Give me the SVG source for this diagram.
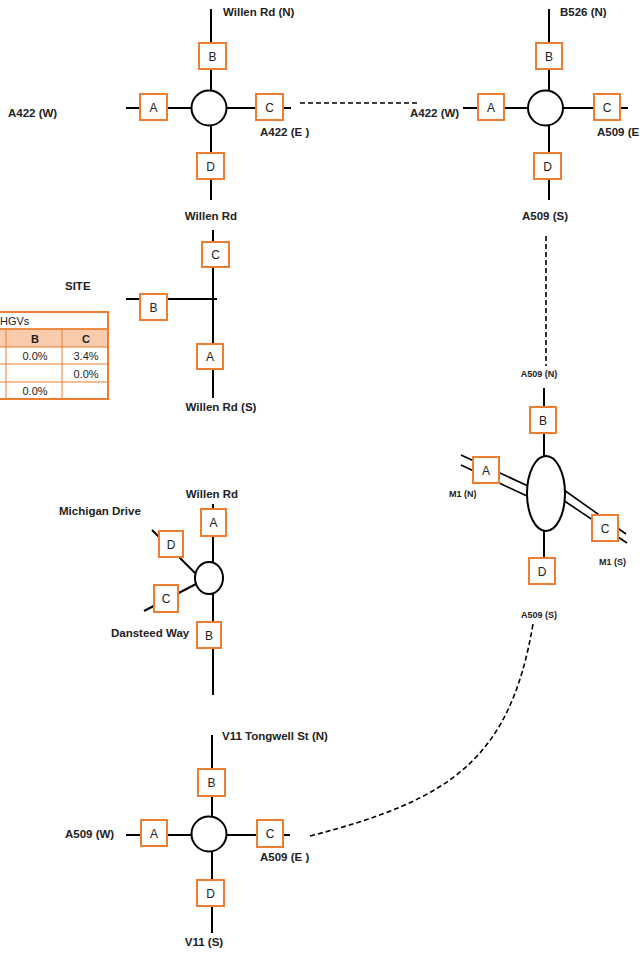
<svg xmlns="http://www.w3.org/2000/svg" width="640" height="956" viewBox="0 0 640 956">
<style>
.rd{stroke:#000;stroke-width:2;fill:none}
.rt{stroke:#000;stroke-width:2;fill:#fff}
.bx{stroke:#ED7D31;stroke-width:2;fill:#fff}
.bl{font-family:"Liberation Sans",Arial,sans-serif;font-size:12px;fill:#222;text-anchor:middle}
.lb{font-family:"Liberation Sans",Arial,sans-serif;font-size:11.5px;font-weight:bold;fill:#222}
.sl{font-family:"Liberation Sans",Arial,sans-serif;font-size:9px;font-weight:bold;fill:#222}
.ds{stroke:#000;stroke-width:1.6;fill:none;stroke-dasharray:5 3}
.tb{font-family:"Liberation Sans",Arial,sans-serif;font-size:11px;fill:#222;text-anchor:middle}
.tl{stroke:#ED7D31;stroke-width:1;fill:none}
</style>
<rect width="640" height="956" fill="#fff"/>
<g id="connectors">
<path class="ds" d="M300,103 L418,103" stroke-dasharray="4 2.5"/>
<path class="ds" d="M546,236 L546,366"/>
<path class="ds" d="M310,836 C450,800 510,760 533,624"/>
</g>
<g id="j1">
<path class="rd" d="M211,9 V200 M126,108 H291"/>
<circle class="rt" cx="209" cy="108" r="17.5"/>
<rect class="bx" x="199" y="43" width="27" height="26"/><text class="bl" x="212.5" y="60.5">B</text>
<rect class="bx" x="140" y="94" width="27" height="26"/><text class="bl" x="153.5" y="111.5">A</text>
<rect class="bx" x="256" y="94" width="27" height="26"/><text class="bl" x="269.5" y="111.5">C</text>
<rect class="bx" x="197" y="153" width="27" height="26"/><text class="bl" x="210.5" y="170.5">D</text>
<text class="lb" x="223" y="16">Willen Rd (N)</text>
<text class="lb" x="8" y="117">A422 (W)</text>
<text class="lb" x="260" y="136">A422 (E )</text>
<text class="lb" x="211" y="220" text-anchor="middle">Willen Rd</text>
</g>
<g id="j2">
<path class="rd" d="M549,9 V200 M463,108 H628"/>
<circle class="rt" cx="545.5" cy="108" r="17.5"/>
<rect class="bx" x="536" y="43" width="26" height="26"/><text class="bl" x="549" y="60.5">B</text>
<rect class="bx" x="478" y="94" width="26" height="26"/><text class="bl" x="491" y="111.5">A</text>
<rect class="bx" x="594" y="94" width="26" height="26"/><text class="bl" x="607" y="111.5">C</text>
<rect class="bx" x="534" y="153" width="27" height="26"/><text class="bl" x="547.5" y="170.5">D</text>
<text class="lb" x="560" y="16">B526 (N)</text>
<text class="lb" x="410" y="117">A422 (W)</text>
<text class="lb" x="597" y="136">A509 (E</text>
<text class="lb" x="545" y="220" text-anchor="middle">A509 (S)</text>
</g>
<g id="site">
<path class="rd" d="M213,230 V398 M126,299 H217"/>
<rect class="bx" x="202" y="242" width="27" height="25"/><text class="bl" x="215.5" y="259">C</text>
<rect class="bx" x="140" y="294" width="27" height="26"/><text class="bl" x="153.5" y="311.5">B</text>
<rect class="bx" x="197" y="344" width="26" height="25"/><text class="bl" x="210" y="361">A</text>
<text class="lb" x="65" y="290">SITE</text>
<text class="lb" x="221" y="411" text-anchor="middle">Willen Rd (S)</text>
</g>
<g id="table">
<rect x="-2" y="329" width="110" height="18" fill="#F8CBAD"/>
<rect x="-2" y="312" width="110" height="87" fill="none" stroke="#ED7D31" stroke-width="2"/>
<path class="tl" d="M-2,329 H108 M-2,347 H108 M-2,364 H108 M-2,382 H108 M6,329 V399 M62,329 V399"/>
<path d="M-2,329 H108" stroke="#ED7D31" stroke-width="1.5"/>
<text x="0" y="325" font-family="Liberation Sans,Arial,sans-serif" font-size="11" fill="#222">HGVs</text>
<text class="tb" x="35" y="343" font-weight="bold">B</text>
<text class="tb" x="86" y="343" font-weight="bold">C</text>
<text class="tb" x="35" y="360">0.0%</text>
<text class="tb" x="86" y="360">3.4%</text>
<text class="tb" x="86" y="378">0.0%</text>
<text class="tb" x="35" y="395">0.0%</text>
</g>
<g id="m1">
<path class="rd" d="M544,388 V457 M544,530 V558"/>
<path d="M461,455 L528,486 M461,465 L527,496 M564,490 L626,534 M563,500 L627,543" stroke="#000" stroke-width="1.6" fill="none"/>
<ellipse class="rt" cx="546" cy="493.5" rx="19" ry="37.5"/>
<rect class="bx" x="530" y="407" width="26" height="26"/><text class="bl" x="543" y="424.5">B</text>
<rect class="bx" x="473" y="457" width="26" height="26"/><text class="bl" x="486" y="474.5">A</text>
<rect class="bx" x="592" y="515" width="26" height="26"/><text class="bl" x="605" y="532.5">C</text>
<rect class="bx" x="529" y="558" width="26" height="26"/><text class="bl" x="542" y="575.5">D</text>
<text class="sl" x="539" y="377" text-anchor="middle">A509 (N)</text>
<text class="sl" x="449" y="497">M1 (N)</text>
<text class="sl" x="599" y="565">M1 (S)</text>
<text class="sl" x="539" y="618" text-anchor="middle">A509 (S)</text>
</g>
<g id="mich">
<path class="rd" d="M213,504 V695 M152,530 L195,573 M144,611 L196,584"/>
<ellipse class="rt" cx="209" cy="578" rx="14" ry="16"/>
<rect class="bx" x="201" y="509" width="25" height="27"/><text class="bl" x="213.5" y="527">A</text>
<rect class="bx" x="197" y="622" width="24" height="26"/><text class="bl" x="209" y="639.5">B</text>
<rect class="bx" x="159" y="531" width="24" height="26"/><text class="bl" x="171" y="548.5">D</text>
<rect class="bx" x="154" y="585" width="24" height="27"/><text class="bl" x="166" y="603">C</text>
<text class="lb" x="59" y="515">Michigan Drive</text>
<text class="lb" x="212" y="498" text-anchor="middle">Willen Rd</text>
<text class="lb" x="111" y="637">Dansteed Way</text>
</g>
<g id="j4">
<path class="rd" d="M212,735 V933 M126,835 H290"/>
<circle class="rt" cx="209" cy="834" r="17.5"/>
<rect class="bx" x="198" y="769" width="27" height="27"/><text class="bl" x="211.5" y="787">B</text>
<rect class="bx" x="141" y="820" width="26" height="26"/><text class="bl" x="154" y="837.5">A</text>
<rect class="bx" x="257" y="820" width="26" height="27"/><text class="bl" x="270" y="838">C</text>
<rect class="bx" x="197" y="880" width="27" height="26"/><text class="bl" x="210.5" y="897.5">D</text>
<text class="lb" x="222" y="740">V11 Tongwell St (N)</text>
<text class="lb" x="65" y="838">A509 (W)</text>
<text class="lb" x="260" y="861">A509 (E )</text>
<text class="lb" x="204" y="946" text-anchor="middle">V11 (S)</text>
</g>
</svg>
